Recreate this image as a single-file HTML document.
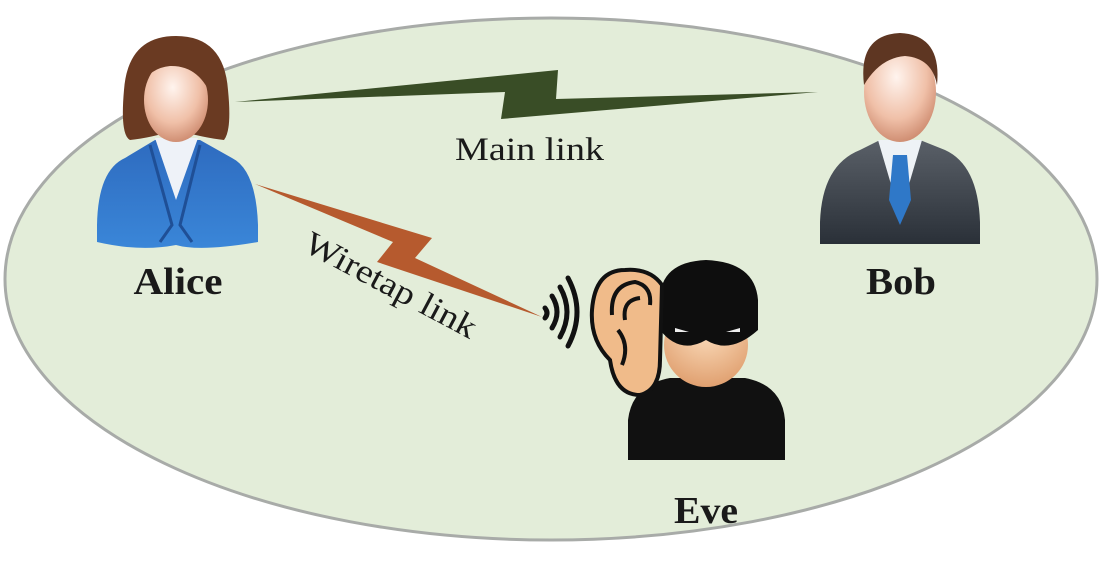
<!DOCTYPE html>
<html><head><meta charset="utf-8"><style>
html,body{margin:0;padding:0;background:#fff;}
svg{display:block}
</style></head><body>
<svg width="1103" height="571" viewBox="0 0 1103 571" xmlns="http://www.w3.org/2000/svg">
<defs>
<radialGradient id="skin" cx="0.45" cy="0.35" r="0.7"><stop offset="0" stop-color="#fff4ee"/><stop offset="0.6" stop-color="#f0c0a8"/><stop offset="1" stop-color="#c98468"/></radialGradient>
<linearGradient id="blue" x1="0" y1="0" x2="0" y2="1"><stop offset="0" stop-color="#2e6bbf"/><stop offset="1" stop-color="#3a86d8"/></linearGradient>
<linearGradient id="suit" x1="0" y1="0" x2="0" y2="1"><stop offset="0" stop-color="#5a6068"/><stop offset="1" stop-color="#2a3038"/></linearGradient>
<radialGradient id="evef" cx="0.5" cy="0.3" r="0.7"><stop offset="0" stop-color="#fde0c0"/><stop offset="1" stop-color="#e0a070"/></radialGradient>
</defs>
<ellipse cx="551" cy="279" rx="546" ry="261" fill="#e3edd9" stroke="#a8aba8" stroke-width="3"/>

<polygon points="235,102 558,70 556,99 818,92 501,119 505,92" fill="#394d26"/>
<polygon points="255,184 432,238 415,258 542,317 377,262 393,242" fill="#b65a2e"/>

<!-- Alice -->
<path d="M97,225 Q98,170 125,158 L155,140 L200,140 L232,158 Q256,170 258,225 L258,242 Q200,252 176,245 Q140,252 97,242 Z" fill="url(#blue)"/>
<path d="M155,138 L176,200 L198,138 Z" fill="#eef2f8"/>
<path d="M150,145 L172,225 L160,242 M200,145 L180,225 L192,242" stroke="#1f4f96" stroke-width="3" fill="none"/>
<path d="M176,36 Q128,36 124,90 Q120,135 130,140 Q150,138 176,130 Q205,138 224,140 Q232,130 228,90 Q224,36 176,36 Z" fill="#6a3a22"/>
<ellipse cx="176" cy="100" rx="32" ry="42" fill="url(#skin)"/>
<path d="M142,85 Q150,48 185,48 Q215,52 213,100 Q200,65 170,66 Q150,68 142,85 Z" fill="#6a3a22"/>

<!-- Bob -->
<path d="M820,222 Q822,165 860,150 L880,140 L920,140 L945,150 Q978,165 980,222 L980,244 L820,244 Z" fill="url(#suit)"/>
<path d="M878,140 L900,215 L922,140 Z" fill="#eef2f6"/>
<path d="M893,155 L907,155 L911,200 L900,225 L889,200 Z" fill="#2f78c8"/>
<ellipse cx="900" cy="92" rx="36" ry="50" fill="url(#skin)"/>
<path d="M864,85 Q858,35 900,33 Q942,35 937,85 Q932,58 905,56 Q880,58 864,85 Z" fill="#5e3622"/>

<!-- Eve -->
<g fill="none" stroke="#111" stroke-linecap="round">
<path d="M545,308 q4,5 0,10" stroke-width="5"/>
<path d="M552,296 q10,16 0,32" stroke-width="5"/>
<path d="M560,287 q14,25 0,50" stroke-width="5"/>
<path d="M568,278 q18,34 0,68" stroke-width="5"/>
</g>
<path d="M628,460 L628,420 Q632,385 670,378 L745,378 Q782,385 785,420 L785,460 Z" fill="#111"/>
<ellipse cx="706" cy="345" rx="42" ry="42" fill="url(#evef)"/>
<path d="M660,300 Q660,262 706,260 Q755,262 758,300 L758,330 Q730,355 706,340 Q680,355 660,330 Z" fill="#0e0e0e"/>
<path d="M675,328 l14,4 l-14,0 Z M740,328 l-14,4 l14,0 Z" fill="#eee"/>
<path d="M625,270 Q595,270 592,310 Q590,340 610,360 Q615,395 640,395 Q660,390 660,360 L662,285 Q650,268 625,270 Z" fill="#f0bb8a" stroke="#111" stroke-width="4"/>
<path d="M612,315 Q610,285 635,282 Q652,286 650,305 M625,320 Q622,300 640,298 M618,330 Q630,345 622,365" fill="none" stroke="#111" stroke-width="4"/>

<text x="455" y="160" font-family="'Liberation Serif',serif" font-size="33" fill="#1a1a1a" textLength="149" lengthAdjust="spacingAndGlyphs">Main link</text>
<text transform="translate(302,250) rotate(28)" font-family="'Liberation Serif',serif" font-size="33" fill="#1a1a1a" textLength="190" lengthAdjust="spacingAndGlyphs">Wiretap link</text>
<text x="178" y="294" text-anchor="middle" font-family="'Liberation Serif',serif" font-weight="bold" font-size="38" fill="#1a1a1a" textLength="89" lengthAdjust="spacingAndGlyphs">Alice</text>
<text x="901" y="294" text-anchor="middle" font-family="'Liberation Serif',serif" font-weight="bold" font-size="38" fill="#1a1a1a" textLength="70" lengthAdjust="spacingAndGlyphs">Bob</text>
<text x="706" y="523" text-anchor="middle" font-family="'Liberation Serif',serif" font-weight="bold" font-size="38" fill="#1a1a1a" textLength="64" lengthAdjust="spacingAndGlyphs">Eve</text>
</svg>
</body></html>
